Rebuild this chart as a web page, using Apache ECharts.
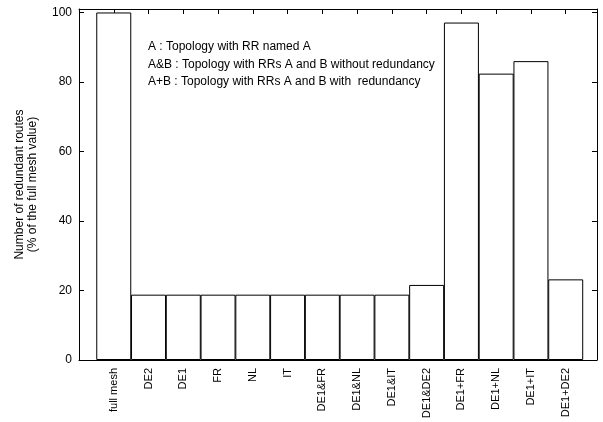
<!DOCTYPE html>
<html>
<head>
<meta charset="utf-8">
<script src="https://cdn.jsdelivr.net/npm/echarts@6/dist/echarts.min.js"></script>
<style>
  html, body { margin: 0; padding: 0; background: #fff; }
  #main { width: 603px; height: 422px; }
</style>
</head>
<body>
<div id="main"></div>
<script>
// topologies and their redundant routes (% of full mesh)
var categories = ['full mesh', 'DE2', 'DE1', 'FR', 'NL', 'IT', 'DE1&FR', 'DE1&NL', 'DE1&IT',
                  'DE1&DE2', 'DE1+FR', 'DE1+NL', 'DE1+IT', 'DE1+DE2'];
var values = [100, 18.8, 18.8, 18.8, 18.8, 18.8, 18.8, 18.8, 18.8, 21.6, 97.1, 82.4, 86.0, 23.2];
var yTicks = [0, 20, 40, 60, 80, 100];
var notes = [
  'A : Topology with RR named A',
  'A&B : Topology with RRs A and B without redundancy',
  'A+B : Topology with RRs A and B with  redundancy'
];

var font = 'Liberation Sans, Arial, Helvetica, sans-serif';
var myChart = echarts.init(document.getElementById('main'));

var barData = values.map(function (v, i) { return [i, v]; });
var frameLine = { onZero: false, lineStyle: { color: '#000', width: 1 } };
var tick = { inside: true, length: 5, lineStyle: { color: '#000' } };

option = {
  animation: false,
  backgroundColor: '#fff',
  grid: { left: 79, right: 6, top: 9, bottom: 62, containLabel: false },
  xAxis: [{
    type: 'value', min: -1, max: 13.9, interval: 1, position: 'bottom',
    axisLine: frameLine, axisTick: tick,
    splitLine: { show: false },
    axisLabel: {
      rotate: 90, margin: 8, color: '#000', fontSize: 11, fontFamily: font,
      showMaxLabel: false,
      formatter: function (v) { return categories[v] || ''; }
    }
  }, {
    type: 'value', min: -1, max: 13.9, interval: 1, position: 'top',
    axisLine: frameLine, axisTick: tick,
    splitLine: { show: false },
    axisLabel: { show: false }
  }],
  yAxis: [{
    type: 'value', min: 0, max: 101, interval: 20, position: 'left',
    name: 'Number of redundant routes\n(% of the full mesh value)',
    nameLocation: 'middle', nameGap: 40, nameRotate: 90,
    nameTextStyle: { color: '#000', fontSize: 12, fontFamily: font, lineHeight: 13 },
    axisLine: frameLine, axisTick: tick,
    splitLine: { show: false },
    axisLabel: {
      color: '#000', fontSize: 12, fontFamily: font, margin: 7, showMaxLabel: false,
      formatter: function (v) { return yTicks.indexOf(v) >= 0 ? String(v) : ''; }
    }
  }, {
    type: 'value', min: 0, max: 101, interval: 20, position: 'right',
    axisLine: { show: true, onZero: false, lineStyle: { color: '#000', width: 1 } },
    axisTick: { show: true, inside: true, length: 5, lineStyle: { color: '#000' } },
    splitLine: { show: false },
    axisLabel: { show: false }
  }],
  series: [{
    type: 'bar',
    xAxisIndex: 0, yAxisIndex: 0,
    data: barData,
    barWidth: 35,
    itemStyle: { color: '#fff', borderColor: '#000', borderWidth: 1 }
  }],
  graphic: notes.map(function (t, i) {
    return {
      type: 'text', left: 148, top: 41 + i * 17.5,
      style: { text: t, fill: '#000', fontSize: 12, fontFamily: font }
    };
  })
};
myChart.setOption(option);
</script>
</body>
</html>
